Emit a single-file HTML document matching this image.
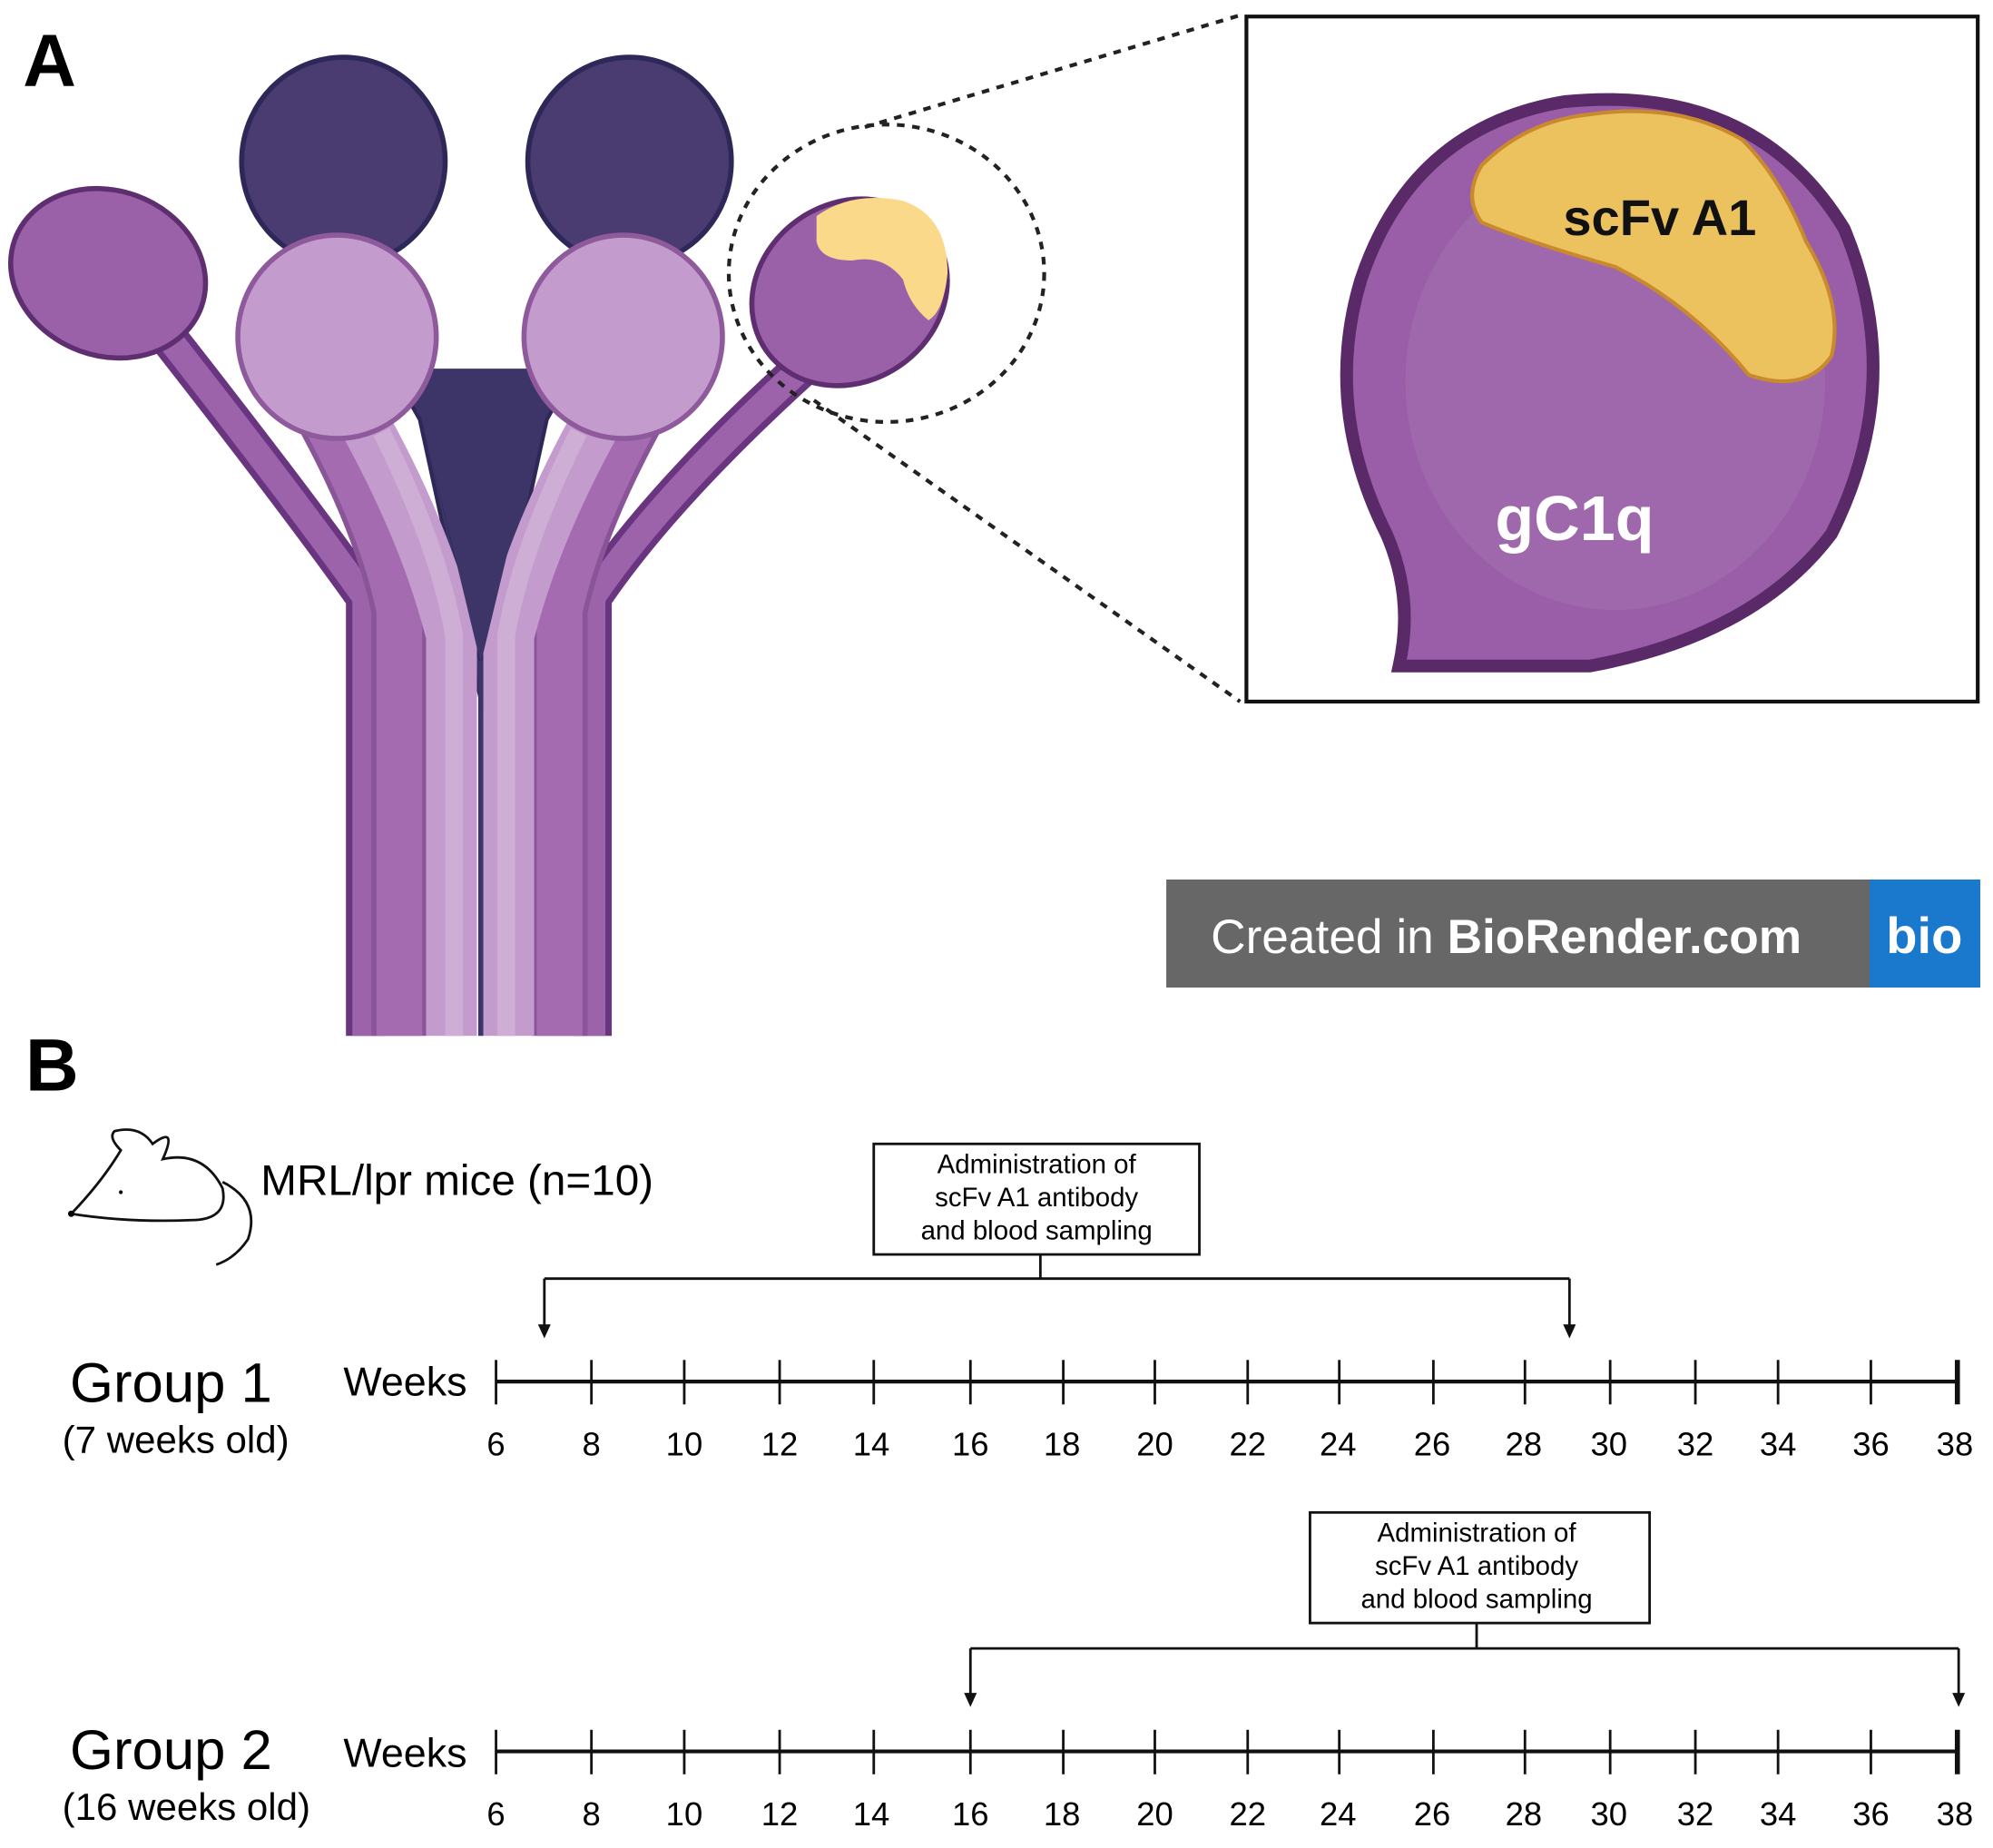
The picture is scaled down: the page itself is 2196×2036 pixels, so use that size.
<!DOCTYPE html>
<html><head><meta charset="utf-8"><style>
html,body{margin:0;padding:0;background:#fff;}
svg{display:block;}
text{font-family:"Liberation Sans",sans-serif;}
</style></head><body>
<svg width="2196" height="2036" viewBox="0 0 1567 1454" preserveAspectRatio="none" xmlns="http://www.w3.org/2000/svg">
<rect width="1567" height="1454" fill="#fff"/>
<text x="18" y="68" font-size="58" font-weight="bold">A</text>
<text x="20" y="858" font-size="58" font-weight="bold">B</text>

<!-- dark V behind -->
<path d="M250 190 L300 190 L345 380 L378 520 L405 380 L455 190 L510 190 L430 330 L380 560 L330 330 Z" fill="#3d3468" stroke="#2e2858" stroke-width="3"/>
<!-- outer stems -->
<g fill="none" stroke-linecap="butt">
<path d="M120 250 Q230 390 287 470 L287 815" stroke="#6a3580" stroke-width="30"/>
<path d="M120 250 Q230 390 287 470 L287 815" stroke="#9c62aa" stroke-width="20"/>
<path d="M630 290 Q520 390 466 470 L466 815" stroke="#6a3580" stroke-width="30"/>
<path d="M630 290 Q520 390 466 470 L466 815" stroke="#9c62aa" stroke-width="20"/>
<!-- medium stems -->
<path d="M250 320 Q300 410 314 480 L314 815" stroke="#8a5598" stroke-width="44"/>
<path d="M250 320 Q300 410 314 480 L314 815" stroke="#a46bb0" stroke-width="36"/>
<path d="M505 320 Q455 410 440 480 L440 815" stroke="#8a5598" stroke-width="44"/>
<path d="M505 320 Q455 410 440 480 L440 815" stroke="#a46bb0" stroke-width="36"/>
<!-- light stems -->
<path d="M285 330 Q335 420 355 500 L355 815" stroke="#c39bcc" stroke-width="40"/>
<path d="M470 330 Q420 420 400 500 L400 815" stroke="#c39bcc" stroke-width="40"/>
<path d="M300 340 Q345 430 357 500 L357 815" stroke="#cfaed6" stroke-width="14"/>
<path d="M455 340 Q410 430 398 500 L398 815" stroke="#cfaed6" stroke-width="14"/>
</g>
<path d="M322 290 L434 290 L378 522 Z" fill="#3d3468"/>
<line x1="378" y1="520" x2="378" y2="815" stroke="#3d3468" stroke-width="4"/>
<!-- dark heads -->
<ellipse cx="270" cy="127" rx="80" ry="82" fill="#4a3c70" stroke="#2e2858" stroke-width="4"/>
<ellipse cx="495" cy="127" rx="80" ry="82" fill="#4a3c70" stroke="#2e2858" stroke-width="4"/>
<!-- outer heads -->
<ellipse cx="85" cy="215" rx="78" ry="65" fill="#9a60a8" stroke="#5e2e70" stroke-width="4" transform="rotate(20 85 215)"/>
<ellipse cx="668" cy="230" rx="80" ry="70" fill="#9a60a8" stroke="#5e2e70" stroke-width="4" transform="rotate(-35 668 230)"/>
<path d="M642 170 Q670 150 710 158 Q745 170 745 215 Q742 245 730 252 Q715 240 710 220 Q695 200 670 205 Q645 205 642 190 Z" fill="#fbd98b"/>
<!-- middle light heads -->
<ellipse cx="265" cy="265" rx="78" ry="80" fill="#c39bcc" stroke="#8e5a9c" stroke-width="4"/>
<ellipse cx="490" cy="265" rx="78" ry="80" fill="#c39bcc" stroke="#8e5a9c" stroke-width="4"/>

<!-- dashed zoom -->
<ellipse cx="697" cy="215" rx="124" ry="117" fill="none" stroke="#222" stroke-width="3" stroke-dasharray="6,6"/>
<line x1="680" y1="100" x2="975" y2="12" stroke="#222" stroke-width="3" stroke-dasharray="6,6"/>
<line x1="640" y1="315" x2="975" y2="552" stroke="#222" stroke-width="3" stroke-dasharray="6,6"/>

<!-- inset -->
<rect x="980" y="13" width="575" height="539" fill="#fff" stroke="#111" stroke-width="3"/>
<path d="M1100 524 Q1112 470 1090 420 Q1040 320 1070 220 Q1110 100 1230 80 Q1380 65 1450 180 Q1500 300 1440 420 Q1380 500 1250 524 Z" fill="#9a5ea8" stroke="#5a2a68" stroke-width="10"/>
<ellipse cx="1270" cy="300" rx="165" ry="180" fill="#a470b0" opacity="0.5"/>
<path d="M1165 130 Q1200 95 1250 90 Q1320 80 1370 110 Q1400 140 1420 190 Q1450 240 1440 280 Q1420 310 1375 295 Q1330 240 1270 210 Q1200 190 1165 175 Q1150 155 1165 130 Z" fill="#ecc25e" stroke="#c98a2e" stroke-width="3"/>
<text x="1305" y="185" font-size="40" font-weight="bold" text-anchor="middle" fill="#111">scFv A1</text>
<text x="1238" y="425" font-size="50" font-weight="bold" text-anchor="middle" fill="#fff">gC1q</text>

<!-- biorender -->
<rect x="917" y="692" width="555" height="85" fill="#676767"/>
<rect x="1470" y="692" width="87" height="85" fill="#1a79cc"/>
<text x="952" y="750" font-size="38" fill="#fff">Created in <tspan font-weight="bold">BioRender.com</tspan></text>
<text x="1513" y="750" font-size="40" font-weight="bold" fill="#fff" text-anchor="middle">bio</text>

<!-- mouse -->
<g fill="none" stroke="#111" stroke-width="2">
<path d="M56 955 Q80 930 95 905 Q85 895 90 890 Q110 885 120 900 Q140 885 128 912 Q160 905 175 935 Q180 960 150 960 Q100 962 56 955 Z"/>
<path d="M175 930 Q205 945 195 975 Q185 990 170 995"/>
</g>
<circle cx="56" cy="955" r="2.5"/>
<circle cx="95" cy="938" r="1.5"/>
<text x="205" y="940" font-size="34">MRL/lpr mice (n=10)</text>

<!-- group 1 -->
<rect x="687" y="900" width="256" height="87" fill="#fff" stroke="#111" stroke-width="2"/>
<g font-size="21" text-anchor="middle">
<text x="815" y="923">Administration of</text>
<text x="815" y="949">scFv A1 antibody</text>
<text x="815" y="975">and blood sampling</text>
</g>
<g stroke="#111" stroke-width="2" fill="none">
<line x1="818" y1="987" x2="818" y2="1006"/>
<line x1="428" y1="1006" x2="1234" y2="1006"/>
<line x1="428" y1="1006" x2="428" y2="1046"/>
<line x1="1234" y1="1006" x2="1234" y2="1046"/>
</g>
<path d="M423 1042 L433 1042 L428 1053 Z M1229 1042 L1239 1042 L1234 1053 Z" fill="#111"/>
<text x="55" y="1103" font-size="44">Group 1</text>
<text x="49" y="1143" font-size="30">(7 weeks old)</text>
<text x="270" y="1098" font-size="32">Weeks</text>

<!-- group 2 -->
<rect x="1030" y="1190" width="267" height="87" fill="#fff" stroke="#111" stroke-width="2"/>
<g font-size="21" text-anchor="middle">
<text x="1161" y="1213">Administration of</text>
<text x="1161" y="1239">scFv A1 antibody</text>
<text x="1161" y="1265">and blood sampling</text>
</g>
<g stroke="#111" stroke-width="2" fill="none">
<line x1="1161" y1="1277" x2="1161" y2="1297"/>
<line x1="763" y1="1297" x2="1540" y2="1297"/>
<line x1="763" y1="1297" x2="763" y2="1336"/>
<line x1="1540" y1="1297" x2="1540" y2="1336"/>
</g>
<path d="M758 1332 L768 1332 L763 1343 Z M1535 1332 L1545 1332 L1540 1343 Z" fill="#111"/>
<text x="55" y="1392" font-size="44">Group 2</text>
<text x="49" y="1432" font-size="30">(16 weeks old)</text>
<text x="270" y="1390" font-size="32">Weeks</text>

<!-- axes -->
<g stroke="#111" stroke-width="2">
<line x1="390" y1="1087" x2="1540" y2="1087" stroke-width="3"/>
<line x1="1539" y1="1070" x2="1539" y2="1105" stroke-width="4"/>
<line x1="390" y1="1070" x2="390" y2="1105"/><line x1="465" y1="1070" x2="465" y2="1105"/><line x1="538" y1="1070" x2="538" y2="1105"/><line x1="613" y1="1070" x2="613" y2="1105"/><line x1="687" y1="1070" x2="687" y2="1105"/><line x1="763" y1="1070" x2="763" y2="1105"/><line x1="836" y1="1070" x2="836" y2="1105"/><line x1="908" y1="1070" x2="908" y2="1105"/><line x1="981" y1="1070" x2="981" y2="1105"/><line x1="1053" y1="1070" x2="1053" y2="1105"/><line x1="1127" y1="1070" x2="1127" y2="1105"/><line x1="1199" y1="1070" x2="1199" y2="1105"/><line x1="1266" y1="1070" x2="1266" y2="1105"/><line x1="1333" y1="1070" x2="1333" y2="1105"/><line x1="1398" y1="1070" x2="1398" y2="1105"/><line x1="1471" y1="1070" x2="1471" y2="1105"/>
</g>
<g transform="translate(0 291)" stroke="#111" stroke-width="2">
<line x1="390" y1="1087" x2="1540" y2="1087" stroke-width="3"/>
<line x1="1539" y1="1070" x2="1539" y2="1105" stroke-width="4"/>
<line x1="390" y1="1070" x2="390" y2="1105"/><line x1="465" y1="1070" x2="465" y2="1105"/><line x1="538" y1="1070" x2="538" y2="1105"/><line x1="613" y1="1070" x2="613" y2="1105"/><line x1="687" y1="1070" x2="687" y2="1105"/><line x1="763" y1="1070" x2="763" y2="1105"/><line x1="836" y1="1070" x2="836" y2="1105"/><line x1="908" y1="1070" x2="908" y2="1105"/><line x1="981" y1="1070" x2="981" y2="1105"/><line x1="1053" y1="1070" x2="1053" y2="1105"/><line x1="1127" y1="1070" x2="1127" y2="1105"/><line x1="1199" y1="1070" x2="1199" y2="1105"/><line x1="1266" y1="1070" x2="1266" y2="1105"/><line x1="1333" y1="1070" x2="1333" y2="1105"/><line x1="1398" y1="1070" x2="1398" y2="1105"/><line x1="1471" y1="1070" x2="1471" y2="1105"/>
</g>
<g font-size="26" text-anchor="middle">
<text x="390" y="1145">6</text><text x="465" y="1145">8</text><text x="538" y="1145">10</text><text x="613" y="1145">12</text><text x="685" y="1145">14</text><text x="763" y="1145">16</text><text x="835" y="1145">18</text><text x="908" y="1145">20</text><text x="981" y="1145">22</text><text x="1052" y="1145">24</text><text x="1126" y="1145">26</text><text x="1198" y="1145">28</text><text x="1265" y="1145">30</text><text x="1333" y="1145">32</text><text x="1398" y="1145">34</text><text x="1471" y="1145">36</text><text x="1537" y="1145">38</text>
</g>
<g font-size="26" text-anchor="middle" transform="translate(0 291)">
<text x="390" y="1145">6</text><text x="465" y="1145">8</text><text x="538" y="1145">10</text><text x="613" y="1145">12</text><text x="685" y="1145">14</text><text x="763" y="1145">16</text><text x="835" y="1145">18</text><text x="908" y="1145">20</text><text x="981" y="1145">22</text><text x="1052" y="1145">24</text><text x="1126" y="1145">26</text><text x="1198" y="1145">28</text><text x="1265" y="1145">30</text><text x="1333" y="1145">32</text><text x="1398" y="1145">34</text><text x="1471" y="1145">36</text><text x="1537" y="1145">38</text>
</g>
</svg>
</body></html>
